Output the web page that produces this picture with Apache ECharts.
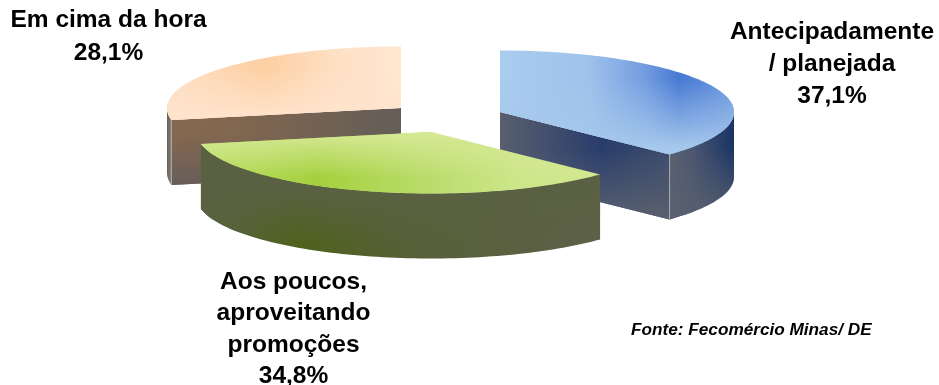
<!DOCTYPE html>
<html>
<head>
<meta charset="utf-8">
<style>html,body{margin:0;padding:0;background:#fff}#chart{width:939px;height:385px}</style>
<script src="https://cdn.jsdelivr.net/npm/echarts@6/dist/echarts.min.js"></script>
</head>
<body>
<div id="chart"></div>
<script>
// Shares of each purchasing habit, clockwise from twelve o'clock
const categories = ['Antecipadamente\n/ planejada', 'Aos poucos,\naproveitando\npromoções', 'Em cima da hora'];
const shares = [37.1, 34.8, 28.1];
const sourceNote = 'Fonte: Fecomércio Minas/ DE';

// Exploded 3D pie layout
const RX = 234, RY = 61.5, DEPTH = 65;
const sliceCentres = [[500, 112], [430.5, 132], [401, 108]];
const labelAnchors = [[832, 16], [293.5, 266], [108.5, 4]];
const labelLeading = [32, 31.5, 33];
const paintOrder = [2, 0, 1]; // back to front: orange, blue, green

const stops = (list) => list.map(([offset, color]) => ({ offset, color }));
const hGrad = (x0, x1, list) => ({ type: 'linear', global: true, x: x0, y: 0, x2: x1, y2: 0, colorStops: stops(list) });
const vGrad = (y0, y1, list) => ({ type: 'linear', global: true, x: 0, y: y0, x2: 0, y2: y1, colorStops: stops(list) });

// Each slice gets a base horizontal ramp plus a vertical veil for the sheen
const skins = [
  {
    top: hGrad(500, 735, [[0, '#A9CCEF'], [0.38, '#9FC2EB'], [0.62, '#729CE0'], [0.76, '#4779D3'], [1, '#6C96DD']]),
    topVeil: vGrad(66, 152, [[0.15, 'rgba(166,200,236,0)'], [0.95, 'rgba(166,200,236,1)']]),
    inner: hGrad(500, 669, [[0, '#585F6E'], [0.6, '#293D6C'], [1, '#3D4C6C']]),
    innerVeil: vGrad(125, 217, [[0.25, 'rgba(88,95,110,0)'], [1, 'rgba(88,95,110,1)']]),
    outer: hGrad(669, 735, [[0, '#5C6270'], [0.35, '#4C5670'], [1, '#173365']]),
    outerVeil: vGrad(130, 218, [[0.2, 'rgba(88,95,110,0)'], [1, 'rgba(88,95,110,1)']])
  },
  {
    top: hGrad(198, 600, [[0, '#BBDD66'], [0.3, '#A5D03E'], [0.55, '#B9DB68'], [0.8, '#CDE68A'], [1, '#D1E890']]),
    topVeil: vGrad(132, 178, [[0, 'rgba(214,233,150,1)'], [1, 'rgba(214,233,150,0)']]),
    outer: hGrad(198, 600, [[0, '#596144'], [0.25, '#4E621C'], [0.5, '#566036'], [1, '#5E6049']]),
    outerVeil: vGrad(190, 245, [[0, 'rgba(90,97,66,1)'], [1, 'rgba(90,97,66,0)']])
  },
  {
    top: hGrad(167, 401, [[0, '#FEDFC3'], [0.42, '#FDCFA3'], [0.7, '#FEDFC2'], [1, '#FFE7D2']]),
    topVeil: vGrad(62, 120, [[0.1, 'rgba(255,228,205,0)'], [1, 'rgba(255,228,205,1)']]),
    inner: hGrad(171, 401, [[0, '#866850'], [0.28, '#81674F'], [1, '#645D57']]),
    innerVeil: vGrad(120, 183, [[0.2, 'rgba(104,94,88,0)'], [1, 'rgba(104,94,88,1)']]),
    outer: hGrad(167, 172, [[0, '#6A6058'], [1, '#8A8580']])
  }
];

// Screen point on the rim of a slice, angle clockwise from twelve o'clock
const rim = (c, deg, drop) => {
  const a = deg * Math.PI / 180;
  return [c[0] + RX * Math.sin(a), c[1] - RY * Math.cos(a) + (drop || 0)];
};

const arc = (c, from, to, drop) => {
  const pts = [];
  const n = Math.max(2, Math.ceil(Math.abs(to - from) / 1.5));
  for (let i = 0; i <= n; i++) pts.push(rim(c, from + (to - from) * i / n, drop));
  return pts;
};

function renderSlice(params, api) {
  const i = params.dataIndex;
  const total = shares.reduce((a, b) => a + b, 0);
  const before = shares.slice(0, i).reduce((a, b) => a + b, 0);
  const start = before / total * 360;
  const end = start + api.value(0) / total * 360;
  const c = sliceCentres[i];
  const skin = skins[i];
  const z = paintOrder.indexOf(i) * 10 + 1;
  const kids = [];
  const poly = (points, fill, extra) => kids.push({
    type: 'polygon', z2: z, shape: { points }, style: Object.assign({ fill }, extra || {})
  });

  // Radial wall, visible when the cut edge faces the viewer
  if (skin.inner) {
    const edgeDeg = (i === 0) ? end : start;
    const pe = rim(c, edgeDeg);
    const wall = [c, pe, [pe[0], pe[1] + DEPTH], [c[0], c[1] + DEPTH]];
    poly(wall, skin.inner);
    poly(wall, skin.innerVeil);
  }

  // Curved outer wall: only the part in the front half of the ellipse shows
  const wallFrom = Math.max(start, 90), wallTo = Math.min(end, 270);
  if (wallTo > wallFrom) {
    const upper = arc(c, wallFrom, wallTo);
    const lower = arc(c, wallTo, wallFrom, DEPTH);
    const wall = upper.concat(lower);
    poly(wall, skin.outer);
    if (skin.outerVeil) poly(wall, skin.outerVeil);
  }

  // Pale hairline down the near corner
  if (i !== 1) {
    const pe = rim(c, i === 0 ? end : start);
    kids.push({
      type: 'line', z2: z,
      shape: { x1: pe[0], y1: pe[1], x2: pe[0], y2: pe[1] + DEPTH },
      style: { stroke: '#A9ABB0', lineWidth: 1 }
    });
  }

  // Top face
  const face = [c].concat(arc(c, start, end));
  poly(face, skin.top);
  poly(face, skin.topVeil);

  // Category and share
  kids.push({
    type: 'text', z2: 100,
    style: {
      x: labelAnchors[i][0], y: labelAnchors[i][1],
      text: categories[i] + '\n' + api.value(0).toFixed(1).replace('.', ',') + '%',
      align: 'center', verticalAlign: 'top',
      fontFamily: '"Liberation Sans", Arial, sans-serif', fontWeight: 'bold', fontSize: 24.5,
      lineHeight: labelLeading[i], fill: '#000'
    }
  });
  return { type: 'group', children: kids };
}

const chart = echarts.init(document.getElementById('chart'), null, { renderer: 'canvas' });
chart.setOption({
  animation: false,
  backgroundColor: '#fff',
  series: [{
    type: 'custom',
    coordinateSystem: 'none',
    silent: true,
    data: shares.map((v) => [v]),
    renderItem: renderSlice
  }],
  graphic: [{
    type: 'text', left: 631, top: 322,
    style: {
      text: sourceNote, fill: '#000',
      font: 'italic bold 17.2px "Liberation Sans", Arial, sans-serif'
    }
  }]
});
</script>
</body>
</html>
